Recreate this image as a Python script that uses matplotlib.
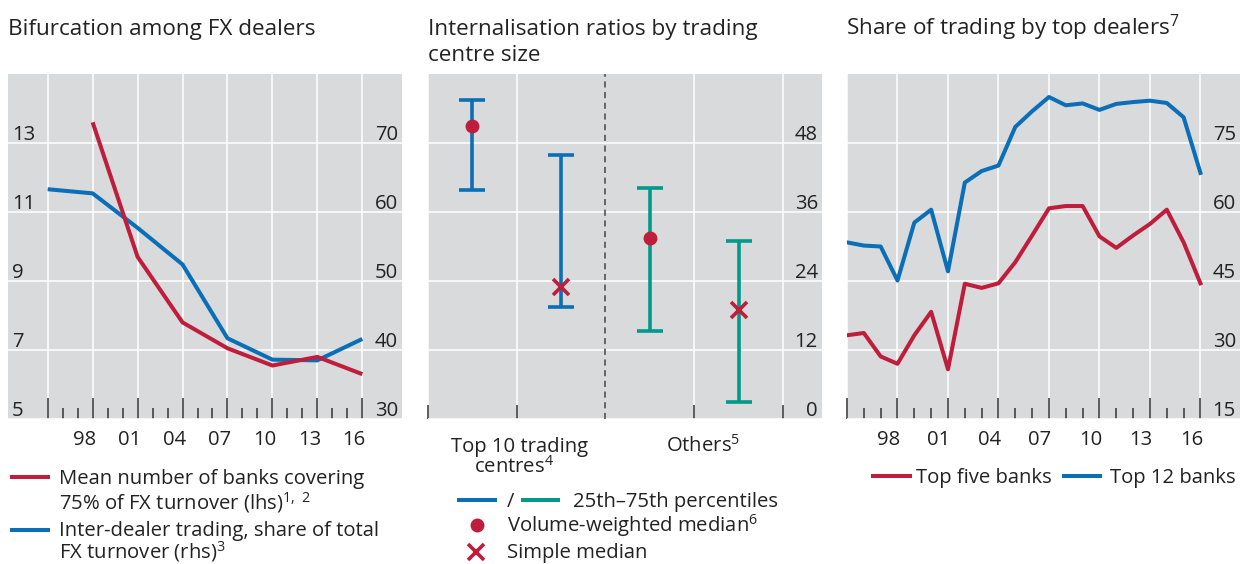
import matplotlib
matplotlib.use('Agg')
import matplotlib.pyplot as plt
from matplotlib.lines import Line2D
from matplotlib.transforms import ScaledTranslation

plt.rcParams['font.family'] = ['Open Sans', 'DejaVu Sans']
plt.rcParams['mathtext.default'] = 'regular'

RED = '#BE1E3C'
BLUE = '#0A6FB7'
GREEN = '#00998A'
BG = '#D9DADC'
TXT = '#222222'
TICK = '#333333'
FS = 14.6

# --- Bifurcation among FX dealers
banks_years = [1998, 2001, 2004, 2007, 2010, 2013, 2016]
banks_75pct = [13.6, 9.7, 7.8, 7.05, 6.55, 6.8, 6.3]
interdealer_years = [1995, 1998, 2001, 2004, 2007, 2010, 2013, 2016]
interdealer_share = [63.3, 62.7, 57.7, 52.4, 41.7, 38.6, 38.5, 41.6]
lhs_ticks = [5, 7, 9, 11, 13]
rhs_ticks = [30, 40, 50, 60, 70]

# --- Internalisation ratios by trading centre size
groups = ['Top 10 trading', 'Others$^5$']
vw_low = [39.9, 15.3]
vw_high = [55.5, 40.2]
vw_median = [51.0, 31.4]
simple_low = [19.4, 3.0]
simple_high = [45.9, 30.9]
simple_median = [23.0, 18.9]
group_colors = [BLUE, GREEN]
mid_ticks = [0, 12, 24, 36, 48]

# --- Share of trading by top dealers
share_years = list(range(1995, 2017))
top5 = [33.2, 33.7, 28.6, 27.0, 33.2, 38.3, 25.8, 44.4, 43.5, 44.5, 49.1,
        54.9, 60.8, 61.3, 61.3, 54.7, 52.2, 54.9, 57.4, 60.5, 53.4, 44.5]
top12 = [53.4, 52.7, 52.5, 45.1, 57.7, 60.5, 47.1, 66.4, 68.9, 70.1, 78.5,
         81.9, 85.0, 83.2, 83.6, 82.2, 83.5, 83.9, 84.2, 83.7, 80.6, 68.5]
right_ticks = [15, 30, 45, 60, 75]

year_labels = ['', '98', '01', '04', '07', '10', '13', '16']
major_years = list(range(1995, 2017, 3))

W, H = 1240, 564
fig = plt.figure(figsize=(W / 100, H / 100), dpi=100)


def box(x0, y0, x1, y1):
    return [x0 / W, 1 - y1 / H, (x1 - x0) / W, (y1 - y0) / H]


def fx(x):
    return x / W


def fy(y):
    return 1 - y / H


def style(ax):
    ax.set_facecolor(BG)
    for s in ax.spines.values():
        s.set_visible(False)
    ax.grid(True, color='white', lw=1.1)
    ax.set_axisbelow(True)
    ax.tick_params(axis='y', length=0, labelleft=False, labelright=False)
    ax.tick_params(axis='x', which='major', direction='in', length=15, width=1.1,
                   color=TICK, labelsize=FS, labelcolor=TXT, pad=8)
    ax.tick_params(axis='x', which='minor', direction='in', length=8, width=1.1, color=TICK)


def ylabels(ax, vals, side):
    for v in vals:
        if side == 'left':
            x, ha, dx = 0, 'left', 3
        else:
            x, ha, dx = 1, 'right', -3
        ax.annotate(str(v), xy=(x, v), xycoords=('axes fraction', 'data'),
                    xytext=(dx, 2.5), textcoords='offset points', ha=ha,
                    va='baseline', fontsize=FS, color=TXT)


def year_axis(ax, shift_px):
    ax.set_xticks(major_years, year_labels)
    ax.set_xticks(range(1995, 2017), minor=True)
    off = ScaledTranslation(-shift_px / 100, 0, fig.dpi_scale_trans)
    for lab in ax.get_xticklabels():
        lab.set_transform(lab.get_transform() + off)


# ---------- left panel
ax2 = fig.add_axes(box(8, 74, 402, 419))
ax1 = ax2.twinx()
style(ax2)
ax2.set_ylim(30, 80)
ax2.set_yticks(rhs_ticks)
ax1.set_ylim(5, 15)
ax1.set_yticks(lhs_ticks)
ax1.grid(False)
for s in ax1.spines.values():
    s.set_visible(False)
ax1.tick_params(axis='y', length=0, labelleft=False, labelright=False)
ax1.set_zorder(ax2.get_zorder() + 1)
ax1.patch.set_visible(False)
ax2.set_xlim(1992.35, 2018.65)
year_axis(ax2, 8)
ax2.plot(interdealer_years, interdealer_share, color=BLUE, lw=2.9, solid_capstyle='butt')
ax1.plot(banks_years, banks_75pct, color=RED, lw=2.9, solid_capstyle='butt')
ylabels(ax1, lhs_ticks, 'left')
ylabels(ax2, rhs_ticks, 'right')

# ---------- middle panel
axm = fig.add_axes(box(428, 74, 822, 419))
style(axm)
axm.set_xlim(0, 4.44)
axm.set_ylim(0, 60)
axm.set_yticks(mid_ticks)
axm.set_xticks([0, 1, 3, 4], ['', '', '', ''])
axm.tick_params(axis='x', which='major', length=10)
axm.axvline(2, color='#444444', lw=1.1, ls=(0, (4, 3)))
for i, c in enumerate(group_colors):
    centre = 1 + 2 * i
    for x, lo, hi in [(centre - 0.5, vw_low[i], vw_high[i]),
                      (centre + 0.5, simple_low[i], simple_high[i])]:
        axm.errorbar([x], [(lo + hi) / 2], yerr=[(hi - lo) / 2], fmt='none',
                     ecolor=c, elinewidth=2.6, capsize=9.7, capthick=2.6, zorder=3)
    axm.plot([centre - 0.5], [vw_median[i]], 'o', color=RED, ms=9, zorder=4)
    axm.plot([centre + 0.5], [simple_median[i]], 'x', color=RED, ms=11, mew=2.6, zorder=4)
ylabels(axm, mid_ticks, 'right')
fig.text(fx(520), fy(452), groups[0], ha='center', va='baseline', fontsize=FS, color=TXT)
fig.text(fx(514), fy(473), 'centres$^4$', ha='center', va='baseline', fontsize=FS, color=TXT)
fig.text(fx(703), fy(452), groups[1], ha='center', va='baseline', fontsize=FS, color=TXT)

# ---------- right panel
axr = fig.add_axes(box(847, 74, 1240, 419))
style(axr)
axr.set_xlim(1995, 2018.35)
axr.set_ylim(15, 90)
axr.set_yticks(right_ticks)
year_axis(axr, 9)
axr.plot(share_years, top12, color=BLUE, lw=2.9)
axr.plot(share_years, top5, color=RED, lw=2.9)
ylabels(axr, right_ticks, 'right')

# ---------- titles
TFS = 16.2
fig.text(fx(8), fy(35), 'Bifurcation among FX dealers', fontsize=TFS, color=TXT, va='baseline')
fig.text(fx(428), fy(35), 'Internalisation ratios by trading', fontsize=TFS, color=TXT, va='baseline')
fig.text(fx(428), fy(61), 'centre size', fontsize=TFS, color=TXT, va='baseline')
fig.text(fx(846), fy(35), 'Share of trading by top dealers$^7$', fontsize=TFS, color=TXT, va='baseline')


# ---------- legends
def handle(x0, x1, y, color):
    fig.add_artist(Line2D([fx(x0), fx(x1)], [fy(y), fy(y)], color=color, lw=2.9))


def ltext(x, y, s, **kw):
    fig.text(fx(x), fy(y), s, fontsize=FS, color=TXT, va='baseline', **kw)


handle(12, 48, 477, RED)
ltext(59, 484, 'Mean number of banks covering')
ltext(59, 509, '75% of FX turnover (lhs)$^{1,\\ 2}$')
handle(12, 48, 530, BLUE)
ltext(59, 536, 'Inter-dealer trading, share of total')
ltext(59, 558, 'FX turnover (rhs)$^3$')

handle(459, 495, 500, BLUE)
ltext(510, 507, '/', ha='center')
handle(523, 558, 500, GREEN)
ltext(573, 507, '25th\u201375th percentiles')
fig.add_artist(Line2D([fx(477)], [fy(525)], marker='o', color=RED, ms=9, ls='none'))
ltext(507, 532, 'Volume-weighted median$^6$')
fig.add_artist(Line2D([fx(476)], [fy(552)], marker='x', color=RED, ms=11, mew=2.6, ls='none'))
ltext(507, 558, 'Simple median')

handle(873, 910, 476, RED)
ltext(916, 483, 'Top five banks')
handle(1064, 1100, 476, BLUE)
ltext(1110, 483, 'Top 12 banks')

fig.savefig('out.png', dpi=100)
